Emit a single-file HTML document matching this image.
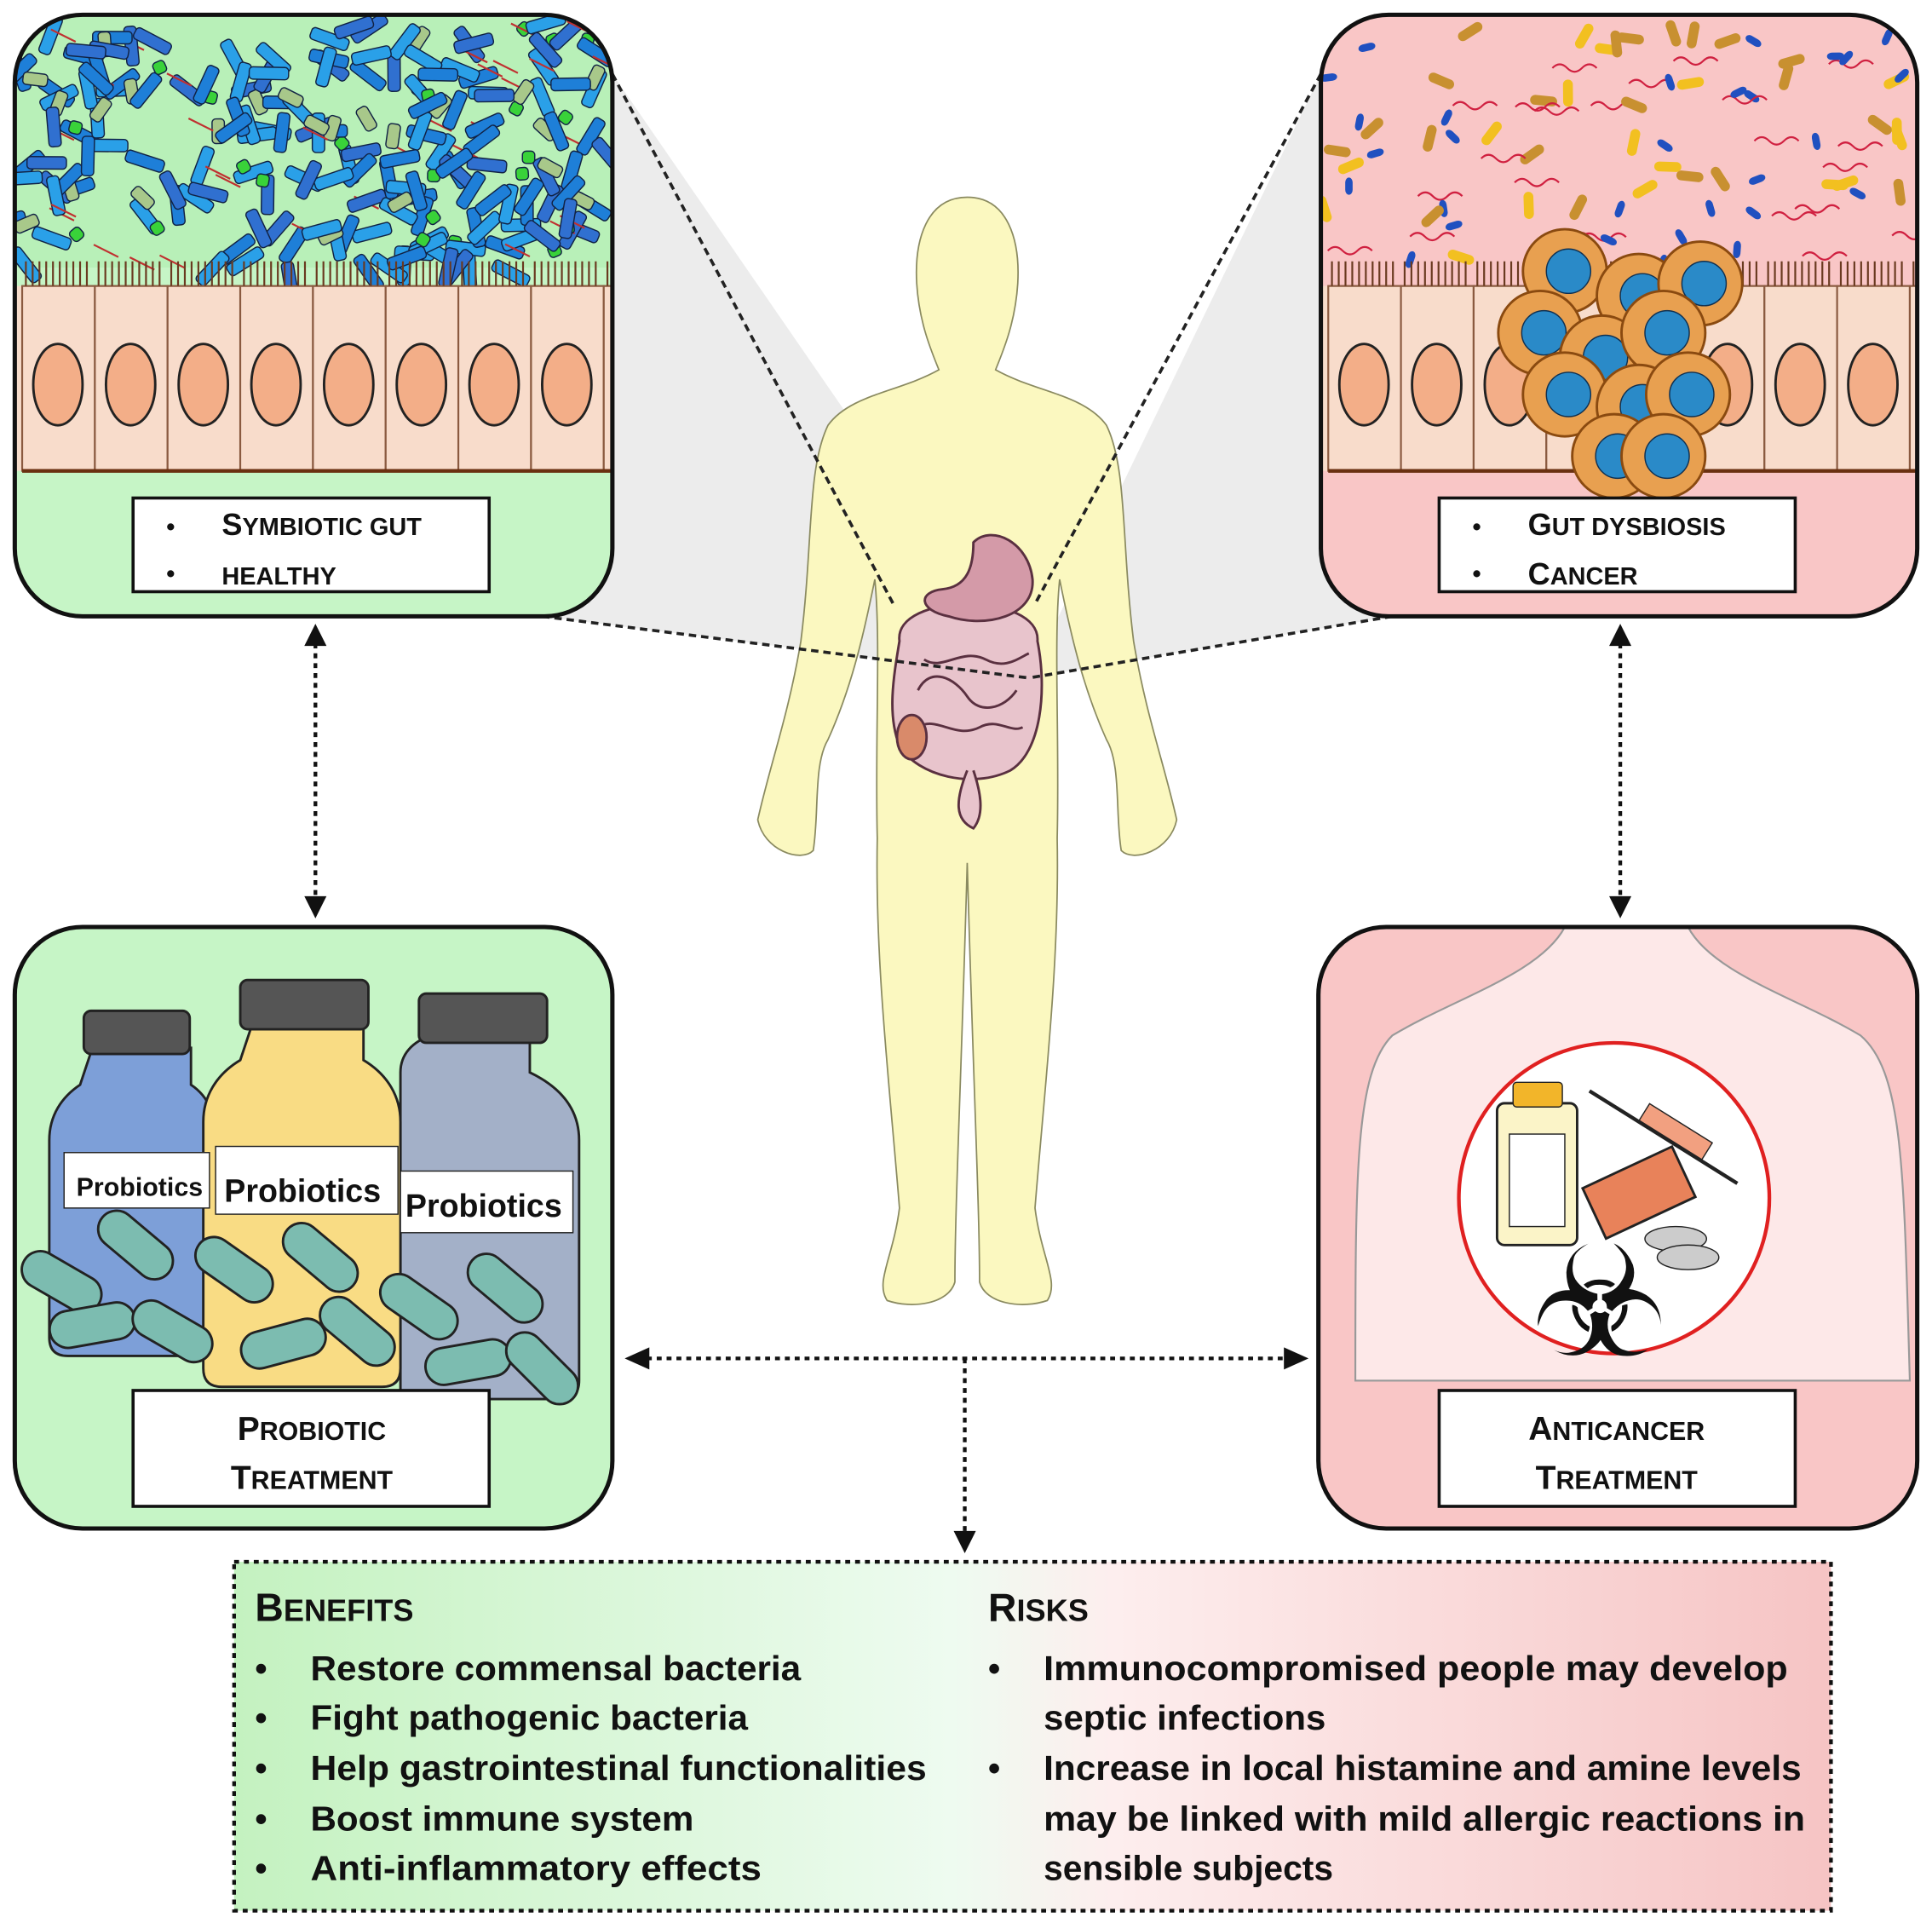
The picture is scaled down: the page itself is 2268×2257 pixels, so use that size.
<!DOCTYPE html>
<html><head><meta charset="utf-8">
<style>
html,body{margin:0;padding:0;background:#fff;}
svg{display:block;}
text{font-family:"Liberation Sans",sans-serif;font-weight:bold;fill:#111;}
</style></head>
<body>
<svg id="s" width="2268" height="2257" viewBox="0 0 1568 1560" preserveAspectRatio="none" xmlns="http://www.w3.org/2000/svg">
<defs>
<linearGradient id="bg" x1="0" x2="1" y1="0" y2="0">
<stop offset="0" stop-color="#c4f2c0"/><stop offset="0.45" stop-color="#eefbf0"/><stop offset="0.55" stop-color="#fdeeee"/><stop offset="1" stop-color="#f6c4c4"/>
</linearGradient>
<clipPath id="cTL"><rect x="12" y="12" width="485" height="488" rx="55"/></clipPath>
<clipPath id="cTR"><rect x="1072" y="12" width="484" height="488" rx="55"/></clipPath>
<clipPath id="cBR"><rect x="1070" y="752" width="486" height="488" rx="55"/></clipPath>
</defs>
<polygon points="497,60 835,550 440,500" fill="#ececec"/>
<polygon points="1072,60 835,550 1130,500" fill="#ececec"/>
<g fill="#fbf8c0" stroke="#8a8a60" stroke-width="1.2">
<path d="M785,160 C752,160 742,195 744,230 C746,262 756,285 762,300 C730,318 690,320 672,345 C655,380 660,440 650,520 C640,580 625,620 615,665 C620,690 650,700 660,690 C665,660 660,620 672,600 C690,560 700,520 710,470 C715,520 710,600 712,680 C710,780 722,880 730,980 C725,1020 710,1040 720,1055 C740,1062 770,1058 775,1040 C775,980 780,880 785,700 C790,880 795,980 795,1040 C800,1058 830,1062 850,1055 C860,1040 845,1020 840,980 C848,880 860,780 858,680 C860,600 855,520 860,470 C870,520 880,560 898,600 C910,620 905,660 910,690 C920,700 950,690 955,665 C945,620 930,580 920,520 C910,440 915,380 898,345 C880,320 840,318 808,300 C814,285 824,262 826,230 C828,195 818,160 785,160Z"/>
</g>
<g stroke="#5a3040" stroke-width="2">
<path d="M730,520 C725,480 845,480 842,520 C850,560 845,610 820,625 C790,640 745,630 730,605 C720,580 725,550 730,520Z" fill="#e8c4cc"/>
<path d="M790,440 C805,425 835,440 838,470 C840,500 800,510 770,500 C745,495 745,480 765,478 C785,476 790,460 790,440Z" fill="#d49aa8"/>
<path d="M785,625 C775,650 775,665 790,672 C800,660 795,640 790,625" fill="#e8c4cc"/>
<path d="M745,560 c10,-20 30,-10 40,5 c10,15 30,10 40,-5 M750,535 c15,10 30,-10 50,0 c15,8 25,0 35,-5 M745,590 c15,-10 30,10 50,0 c15,-8 25,5 35,0" fill="none"/>
<ellipse cx="740" cy="598" rx="12" ry="18" fill="#d98a6a"/>
</g>
<g stroke="#222" stroke-width="2.5" stroke-dasharray="6,4" fill="none">
<line x1="497" y1="60" x2="725" y2="490"/>
<line x1="1072" y1="60" x2="840" y2="490"/>
<line x1="440" y1="500" x2="835" y2="550"/>
<line x1="1130" y1="500" x2="835" y2="550"/>
</g>
<rect x="12" y="12" width="485" height="488" rx="55" fill="#c6f5c6"/>
<g clip-path="url(#cTL)">
<rect x="12" y="12" width="485" height="205" fill="#b8f0b8"/>
<g id="tlb"></g>
<rect x="12" y="232" width="485" height="150" fill="#f7dccb"/>
<g id="tlc"></g>
</g>
<rect x="12" y="12" width="485" height="488" rx="55" fill="none" stroke="#111" stroke-width="3.5"/>
<rect x="108" y="404" width="289" height="76" fill="#fff" stroke="#111" stroke-width="2.5"/>
<text x="135" y="434" font-size="20">•</text><text x="180" y="434" font-size="25">S<tspan font-size="20">YMBIOTIC GUT</tspan></text>
<text x="135" y="472" font-size="20">•</text><text x="180" y="474" font-size="20">HEALTHY</text>
<rect x="1072" y="12" width="484" height="488" rx="55" fill="#f9c6c6"/>
<g clip-path="url(#cTR)">
<g id="trb"></g>
<rect x="1072" y="232" width="484" height="150" fill="#f7dccb"/>
<g id="trc"></g>
<g id="tumor"></g>
</g>
<rect x="1072" y="12" width="484" height="488" rx="55" fill="none" stroke="#111" stroke-width="3.5"/>
<rect x="1168" y="404" width="289" height="76" fill="#fff" stroke="#111" stroke-width="2.5"/>
<text x="1195" y="434" font-size="20">•</text><text x="1240" y="434" font-size="25">G<tspan font-size="20">UT DYSBIOSIS</tspan></text>
<text x="1195" y="472" font-size="20">•</text><text x="1240" y="474" font-size="25">C<tspan font-size="20">ANCER</tspan></text>
<rect x="12" y="752" width="485" height="488" rx="55" fill="#c6f5c6" stroke="#111" stroke-width="3.5"/>
<g stroke="#222" stroke-width="2">
<path d="M75,850 h80 v30 c15,10 20,25 20,45 v160 c0,10 -5,15 -15,15 h-105 c-10,0 -15,-5 -15,-15 v-160 c0,-20 10,-35 25,-45 z" fill="#7d9fd8"/>
<rect x="68" y="820" width="86" height="35" rx="6" fill="#555"/>
<path d="M350,840 h80 v30 c25,12 40,30 40,55 v195 c0,10 -5,15 -15,15 h-130 v-265 c0,-15 10,-25 25,-30 z" fill="#a3b0c8"/>
<rect x="340" y="806" width="104" height="40" rx="6" fill="#555"/>
<path d="M205,830 h90 v30 c20,12 30,30 30,50 v200 c0,10 -5,15 -15,15 h-130 c-10,0 -15,-5 -15,-15 v-200 c0,-20 10,-38 30,-50 z" fill="#f9dc84"/>
<rect x="195" y="795" width="104" height="40" rx="6" fill="#555"/>
</g>
<rect x="52" y="935" width="118" height="45" fill="#fff" stroke="#222"/>
<text x="62" y="970" font-size="21">Probiotics</text>
<rect x="175" y="930" width="148" height="55" fill="#fff" stroke="#222"/>
<text x="182" y="975" font-size="26">Probiotics</text>
<rect x="325" y="950" width="140" height="50" fill="#fff" stroke="#222"/>
<text x="329" y="987" font-size="26">Probiotics</text>
<g id="pills"></g>
<rect x="108" y="1128" width="289" height="94" fill="#fff" stroke="#111" stroke-width="2.5"/>
<text x="253" y="1168" font-size="27" text-anchor="middle">P<tspan font-size="21">ROBIOTIC</tspan></text>
<text x="253" y="1208" font-size="27" text-anchor="middle">T<tspan font-size="21">REATMENT</tspan></text>
<rect x="1070" y="752" width="486" height="488" rx="55" fill="#f9c6c6"/>
<g clip-path="url(#cBR)">
<path d="M1100,1120 C1100,950 1100,870 1130,840 C1180,810 1250,790 1270,752 L1370,752 C1390,790 1460,810 1510,840 C1545,870 1545,950 1550,1120 Z" fill="#fde8e8" stroke="#999" stroke-width="1.5"/>
</g>
<rect x="1070" y="752" width="486" height="488" rx="55" fill="none" stroke="#111" stroke-width="3.5"/>
<circle cx="1310" cy="972" r="126" fill="#fff" stroke="#e02020" stroke-width="3"/>
<rect x="1215" y="895" width="65" height="115" rx="6" fill="#fbf4c8" stroke="#222" stroke-width="2"/>
<rect x="1228" y="878" width="40" height="20" rx="3" fill="#f2b52a" stroke="#222"/>
<rect x="1225" y="920" width="45" height="75" fill="#fff" stroke="#222"/>
<rect x="1290" y="945" width="80" height="45" fill="#e8825a" stroke="#222" stroke-width="2" transform="rotate(-25 1330 967)"/>
<line x1="1290" y1="885" x2="1410" y2="960" stroke="#222" stroke-width="3"/>
<rect x="1330" y="910" width="60" height="16" fill="#f2a080" stroke="#222" transform="rotate(32 1360 918)"/>
<ellipse cx="1360" cy="1005" rx="25" ry="10" fill="#ccc" stroke="#222"/>
<ellipse cx="1370" cy="1020" rx="25" ry="10" fill="#ccc" stroke="#222"/>
<text x="1298" y="1100" font-size="125" text-anchor="middle" style="font-weight:normal">☣</text>
<rect x="1168" y="1128" width="289" height="94" fill="#fff" stroke="#111" stroke-width="2.5"/>
<text x="1312" y="1168" font-size="27" text-anchor="middle">A<tspan font-size="21">NTICANCER</tspan></text>
<text x="1312" y="1208" font-size="27" text-anchor="middle">T<tspan font-size="21">REATMENT</tspan></text>
<g stroke="#111" stroke-width="3" stroke-dasharray="4,4" fill="none">
<line x1="256" y1="522" x2="256" y2="730"/>
<line x1="1315" y1="522" x2="1315" y2="730"/>
<line x1="525" y1="1102" x2="1045" y2="1102"/>
<line x1="783" y1="1102" x2="783" y2="1245"/>
</g>
<g fill="#111">
<polygon points="256,506 247,524 265,524"/><polygon points="256,745 247,727 265,727"/>
<polygon points="1315,506 1306,524 1324,524"/><polygon points="1315,745 1306,727 1324,727"/>
<polygon points="507,1102 527,1093 527,1111"/><polygon points="1062,1102 1042,1093 1042,1111"/>
<polygon points="783,1260 774,1242 792,1242"/>
</g>
<rect x="190" y="1267" width="1296" height="283" fill="url(#bg)" stroke="#111" stroke-width="3" stroke-dasharray="4,4"/>
<text x="207" y="1315" font-size="32">B<tspan font-size="25">ENEFITS</tspan></text>
<text x="802" y="1315" font-size="32">R<tspan font-size="25">ISKS</tspan></text>
<g font-size="28">
<text x="207" y="1363">•</text><text x="252" y="1363" textLength="398" lengthAdjust="spacingAndGlyphs">Restore commensal bacteria</text>
<text x="207" y="1403">•</text><text x="252" y="1403" textLength="355" lengthAdjust="spacingAndGlyphs">Fight pathogenic bacteria</text>
<text x="207" y="1444">•</text><text x="252" y="1444" textLength="500" lengthAdjust="spacingAndGlyphs">Help gastrointestinal  functionalities</text>
<text x="207" y="1485">•</text><text x="252" y="1485" textLength="311" lengthAdjust="spacingAndGlyphs">Boost immune system</text>
<text x="207" y="1525">•</text><text x="252" y="1525" textLength="366" lengthAdjust="spacingAndGlyphs">Anti-inflammatory effects</text>
<text x="802" y="1363">•</text><text x="847" y="1363" textLength="604" lengthAdjust="spacingAndGlyphs">Immunocompromised people may develop</text>
<text x="847" y="1403" textLength="229" lengthAdjust="spacingAndGlyphs">septic infections</text>
<text x="802" y="1444">•</text><text x="847" y="1444" textLength="615" lengthAdjust="spacingAndGlyphs">Increase in local histamine and amine levels</text>
<text x="847" y="1485" textLength="618" lengthAdjust="spacingAndGlyphs">may be linked with mild allergic reactions in</text>
<text x="847" y="1525" textLength="235" lengthAdjust="spacingAndGlyphs">sensible subjects</text>
</g>
</svg>
<script>
(function(){
var NS="http://www.w3.org/2000/svg",seed=7;
function r(){seed=(seed*16807)%2147483647;return seed/2147483647;}
function el(p,t,a){var e=document.createElementNS(NS,t);for(var k in a)e.setAttribute(k,a[k]);p.appendChild(e);return e;}
var tlb=document.getElementById("tlb");
for(var i=0;i<240;i++){var x=15+r()*480,y=15+r()*200,ang=r()*180,c=["#1e7fd8","#2aa0e8","#39d239","#a8c88a","#3070d0","#c03030","#1e7fd8","#2aa0e8"][Math.floor(r()*8)];
 if(c=="#c03030")el(tlb,"line",{x1:x,y1:y,x2:x+20,y2:y+10,stroke:c,"stroke-width":1.5});
 else el(tlb,"rect",{x:x,y:y,width:c=="#39d239"?10:(c=="#a8c88a"?20:32),height:10,rx:3,fill:c,stroke:"#124",transform:"rotate("+ang+" "+x+" "+y+")"});}
var trb=document.getElementById("trb");
for(var i=0;i<90;i++){var x=1075+r()*480,y=15+r()*195,ang=r()*180,c=["#f2c020","#c89030","#d02040","#2050c0"][Math.floor(r()*4)];
 if(c=="#d02040")el(trb,"path",{d:"M"+x+","+y+" q6,-6 12,0 t12,0 t12,0",stroke:c,fill:"none","stroke-width":1.5});
 else el(trb,"rect",{x:x,y:y,width:c=="#2050c0"?6:22,height:c=="#2050c0"?14:8,rx:4,fill:c,transform:"rotate("+ang+" "+x+" "+y+")"});}
function cells(g,x0){for(var i=0;i<9;i++){var x=x0+i*59;el(g,"rect",{x:x,y:232,width:59,height:150,fill:"#f8dccb",stroke:"#8a5a40","stroke-width":1.5});
 el(g,"ellipse",{cx:x+29,cy:312,rx:20,ry:33,fill:"#f3ae88",stroke:"#222","stroke-width":2});
 for(var j=0;j<10;j++)el(g,"line",{x1:x+3+j*5.5,y1:232,x2:x+3+j*5.5,y2:212,stroke:"#6a3a20","stroke-width":1.5});}
 el(g,"line",{x1:x0,y1:382,x2:x0+540,y2:382,stroke:"#6a3010","stroke-width":3});}
cells(document.getElementById("tlc"),18);cells(document.getElementById("trc"),1078);
var tu=document.getElementById("tumor");
[[1270,220],[1330,240],[1380,230],[1250,270],[1300,290],[1350,270],[1270,320],[1330,330],[1370,320],[1310,370],[1350,370]].forEach(function(p){
 el(tu,"circle",{cx:p[0],cy:p[1],r:34,fill:"#e8a050",stroke:"#8a4a10","stroke-width":2});
 el(tu,"circle",{cx:p[0]+3,cy:p[1],r:18,fill:"#2a8ac8",stroke:"#103050"});});
var pl=document.getElementById("pills");
[[50,1040,30],[110,1010,40],[75,1075,-10],[190,1030,35],[260,1020,40],[230,1090,-15],[290,1080,40],[340,1060,35],[410,1045,40],[380,1105,-10],[440,1110,45],[140,1080,30]].forEach(function(p){
 el(pl,"rect",{x:p[0]-35,y:p[1]-15,width:70,height:30,rx:15,fill:"#7cbcb0",stroke:"#222","stroke-width":2,transform:"rotate("+p[2]+" "+p[0]+" "+p[1]+")"});});
})();
</script>
</body></html>
